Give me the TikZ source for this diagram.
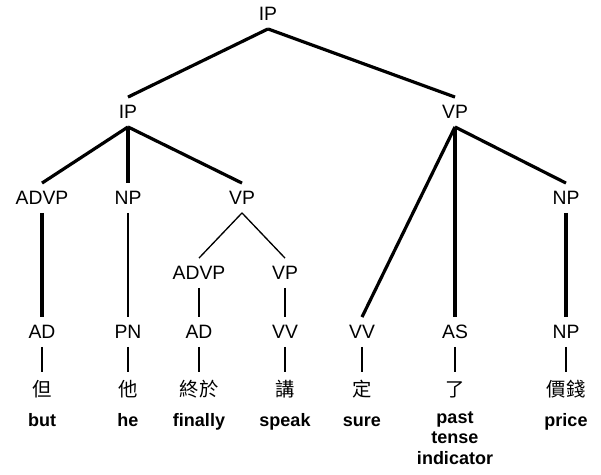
\documentclass[tikz,border=0pt]{standalone}
\usepackage{fontspec}
\setmainfont{Liberation Sans}
\newfontfamily\cjk{Noto Sans CJK TC}
\begin{document}
\begin{tikzpicture}[x=0.75pt,y=-0.75pt,
  cat/.style={font=\fontsize{14.5}{17}\selectfont, inner sep=0pt,
              text height=10.4pt, text depth=0pt, minimum height=22pt},
  han/.style={font=\cjk\fontsize{14.5}{17}\selectfont, inner sep=0pt,
              text height=12pt, text depth=2pt, minimum height=27pt},
  word/.style={font=\bfseries\fontsize{13.5}{15.4}\selectfont, inner sep=0pt, align=center},
  heavy/.style={line width=2.4pt},
  light/.style={line width=1pt}]
\path[use as bounding box] (0,0) rectangle (601,475);

% phrase labels
\node[cat] (ip0)   at (268,14)  {IP};
\node[cat] (ip1)   at (128,112) {IP};
\node[cat] (vp1)   at (455,112) {VP};
\node[cat] (advp1) at (42,198)  {ADVP};
\node[cat] (np1)   at (128,198) {NP};
\node[cat] (vp2)   at (242,198) {VP};
\node[cat] (np2)   at (566,198) {NP};
\node[cat] (advp2) at (199,273) {ADVP};
\node[cat] (vp3)   at (285,273) {VP};

% part-of-speech labels
\node[cat] (ad1) at (42,332)  {AD};
\node[cat] (pn)  at (128,332) {PN};
\node[cat] (ad2) at (199,332) {AD};
\node[cat] (vv1) at (285,332) {VV};
\node[cat] (vv2) at (362,332) {VV};
\node[cat] (as)  at (455,332) {AS};
\node[cat] (np3) at (566,332) {NP};

% Chinese words
\node[han] (h1) at (42,390)  {但};
\node[han] (h2) at (128,390) {他};
\node[han] (h3) at (199,390) {終於};
\node[han] (h4) at (285,390) {講};
\node[han] (h5) at (362,390) {定};
\node[han] (h6) at (455,390) {了};
\node[han] (h7) at (566,390) {價錢};

% English glosses
\node[word, anchor=base]  (g1) at (42,426)  {but};
\node[word, anchor=base]  (g2) at (128,426) {he};
\node[word, anchor=base]  (g3) at (199,426) {finally};
\node[word, anchor=base]  (g4) at (285,426) {speak};
\node[word, anchor=base]  (g5) at (362,426) {sure};
\node[word, anchor=north] (g6) at (455,411) {past\\tense\\indicator};
\node[word, anchor=base]  (g7) at (566,426) {price};

% heavy branches
\draw[heavy] (ip0.south) -- (ip1.north);
\draw[heavy] (ip0.south) -- (vp1.north);
\draw[heavy] (ip1.south) -- (advp1.north);
\draw[heavy] (ip1.south) -- (np1.north);
\draw[heavy] (ip1.south) -- (vp2.north);
\draw[heavy] (advp1.south) -- (ad1.north);
\draw[heavy] (vp1.south) -- (vv2.north);
\draw[heavy] (vp1.south) -- (as.north);
\draw[heavy] (vp1.south) -- (np2.north);
\draw[heavy] (np2.south) -- (np3.north);

% light branches
\draw[light] (np1.south) -- (pn.north);
\draw[light] (vp2.south) -- (advp2.north);
\draw[light] (vp2.south) -- (vp3.north);
\draw[light] (advp2.south) -- (ad2.north);
\draw[light] (vp3.south) -- (vv1.north);
\draw[light] (ad1.south) -- (h1.north);
\draw[light] (pn.south)  -- (h2.north);
\draw[light] (ad2.south) -- (h3.north);
\draw[light] (vv1.south) -- (h4.north);
\draw[light] (vv2.south) -- (h5.north);
\draw[light] (as.south)  -- (h6.north);
\draw[light] (np3.south) -- (h7.north);
\end{tikzpicture}
\end{document}
